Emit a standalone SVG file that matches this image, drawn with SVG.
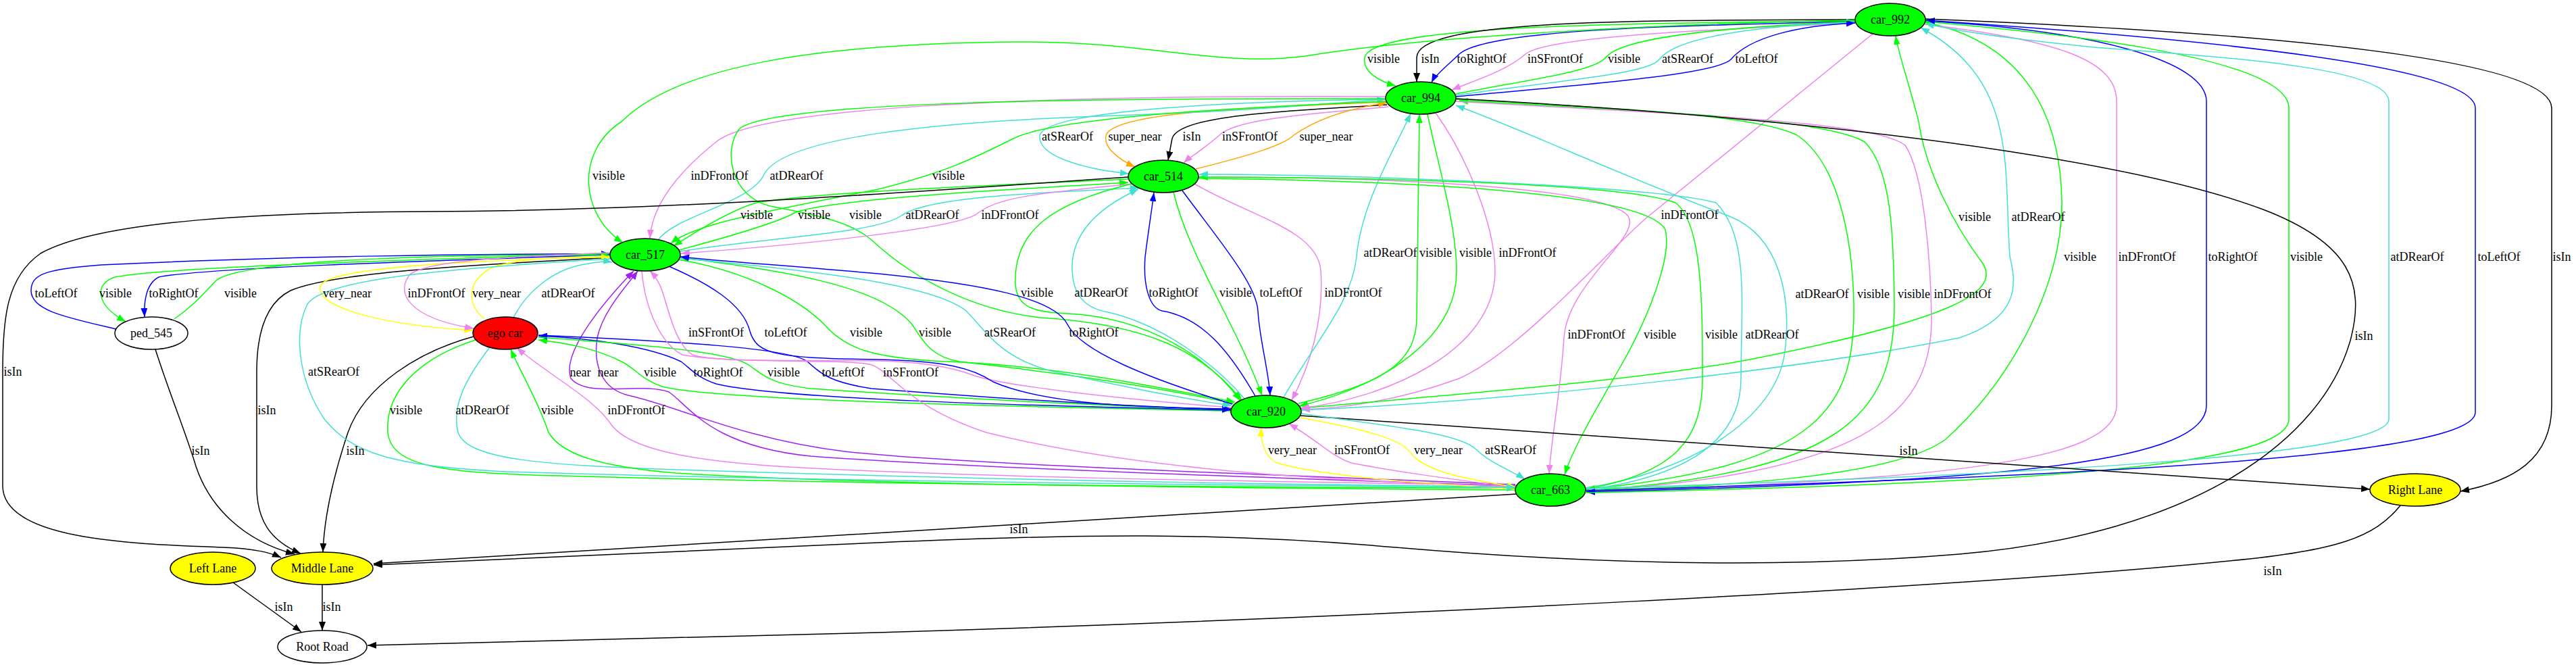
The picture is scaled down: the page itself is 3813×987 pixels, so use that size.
<svg xmlns="http://www.w3.org/2000/svg" width="3813" height="987" viewBox="0 0 3813 987">
<style>
.e{fill:none;stroke-width:1.5}
.g{stroke:#00ff00;marker-end:url(#mg)}
.t{stroke:#40e0d0;marker-end:url(#mt)}
.v{stroke:#ee82ee;marker-end:url(#mv)}
.b{stroke:#0000ff;marker-end:url(#mb)}
.o{stroke:#ffa500;marker-end:url(#mo)}
.y{stroke:#ffff00;marker-end:url(#my)}
.p{stroke:#a020f0;marker-end:url(#mp)}
.k{stroke:#000000;marker-end:url(#mk)}
text{font-family:"Liberation Serif","Times New Roman",serif;font-size:18px;text-anchor:middle;fill:#000}
.n ellipse{stroke:#000;stroke-width:1.5}
</style>
<defs>
<marker id="mg" viewBox="0 0 13 10" refX="13" refY="5" markerWidth="13" markerHeight="10" markerUnits="userSpaceOnUse" orient="auto"><path d="M0,0L13,5L0,10z" fill="#00ff00"/></marker>
<marker id="mt" viewBox="0 0 13 10" refX="13" refY="5" markerWidth="13" markerHeight="10" markerUnits="userSpaceOnUse" orient="auto"><path d="M0,0L13,5L0,10z" fill="#40e0d0"/></marker>
<marker id="mv" viewBox="0 0 13 10" refX="13" refY="5" markerWidth="13" markerHeight="10" markerUnits="userSpaceOnUse" orient="auto"><path d="M0,0L13,5L0,10z" fill="#ee82ee"/></marker>
<marker id="mb" viewBox="0 0 13 10" refX="13" refY="5" markerWidth="13" markerHeight="10" markerUnits="userSpaceOnUse" orient="auto"><path d="M0,0L13,5L0,10z" fill="#0000ff"/></marker>
<marker id="mo" viewBox="0 0 13 10" refX="13" refY="5" markerWidth="13" markerHeight="10" markerUnits="userSpaceOnUse" orient="auto"><path d="M0,0L13,5L0,10z" fill="#ffa500"/></marker>
<marker id="my" viewBox="0 0 13 10" refX="13" refY="5" markerWidth="13" markerHeight="10" markerUnits="userSpaceOnUse" orient="auto"><path d="M0,0L13,5L0,10z" fill="#ffff00"/></marker>
<marker id="mp" viewBox="0 0 13 10" refX="13" refY="5" markerWidth="13" markerHeight="10" markerUnits="userSpaceOnUse" orient="auto"><path d="M0,0L13,5L0,10z" fill="#a020f0"/></marker>
<marker id="mk" viewBox="0 0 13 10" refX="13" refY="5" markerWidth="13" markerHeight="10" markerUnits="userSpaceOnUse" orient="auto"><path d="M0,0L13,5L0,10z" fill="#000000"/></marker>
</defs>
<rect width="3813" height="987" fill="#ffffff"/>
<g id="connectors">
<path class="e g" d="M2746,31 C2350,34 2030,40 2020,85 C2016,105 2040,120 2066,127"/>
<path class="e k" d="M2746,29 C2400,30 2098,30 2097,85 L2097,121"/>
<path class="e b" d="M2746,32 C2450,38 2200,45 2160,80 C2145,95 2125,110 2119,122"/>
<path class="e v" d="M2747,34 C2500,45 2290,55 2258,80 C2230,105 2180,120 2149,133"/>
<path class="e g" d="M2155,139 C2280,115 2360,105 2377,85 C2400,55 2550,40 2746,32"/>
<path class="e t" d="M2155,141 C2300,120 2440,110 2456,88 C2480,55 2600,38 2746,33"/>
<path class="e b" d="M2155,143 C2350,125 2540,110 2562,88 C2590,55 2660,38 2746,34"/>
<path class="e t" d="M2051,147 C1800,150 1550,165 1539,200 C1535,235 1620,252 1671,257"/>
<path class="e o" d="M2052,151 C1850,160 1660,165 1638,198 C1630,218 1660,238 1680,247"/>
<path class="e k" d="M2053,155 C1900,165 1745,170 1735,205 L1729,237"/>
<path class="e v" d="M2055,158 C1950,168 1830,175 1805,200 C1785,218 1762,232 1752,241"/>
<path class="e o" d="M1770,250 C1850,230 1900,215 1915,200 C1950,175 2000,160 2053,152"/>
<path class="e g" d="M2746,30 C2450,35 2100,55 1932,83 C1800,100 1700,60 1500,62 C1200,65 1000,100 920,180 C850,225 860,320 922,359"/>
<path class="e v" d="M2051,143 C1500,140 1120,160 1060,210 C1010,250 965,300 962,353"/>
<path class="e t" d="M975,354 C1000,320 1110,300 1130,260 C1150,215 1300,185 1600,173 C1850,165 1980,152 2051,147"/>
<path class="e g" d="M2052,150 C1800,160 1560,175 1500,205 C1440,235 1400,255 1300,280 C1150,310 1030,330 993,360"/>
<path class="e g" d="M1670,265 C1450,275 1200,285 1120,300 C1090,308 1050,330 997,364"/>
<path class="e g" d="M1005,370 C1080,350 1150,330 1176,315 C1220,295 1500,280 1670,270"/>
<path class="e g" d="M2051,146 C1600,145 1150,150 1095,190 C1070,220 1080,290 1140,305 C1220,320 1260,330 1290,355 C1360,420 1450,460 1540,470 C1700,480 1780,520 1838,592"/>
<path class="e t" d="M1006,372 C1150,350 1300,345 1336,318 C1380,290 1550,285 1686,278"/>
<path class="e v" d="M1676,272 C1550,285 1480,290 1448,315 C1420,340 1150,365 1008,375"/>
<path class="e v" d="M2772,50 L2440,320 C2380,370 2250,520 2160,560 C2050,600 1960,605 1926,606"/>
<path class="e g" d="M1926,604 C2200,580 2450,560 2600,530 C2900,470 2960,430 2935,390 C2890,330 2850,250 2840,180 C2825,120 2810,80 2806,53"/>
<path class="e t" d="M1926,607 C2300,590 2700,540 2900,500 C2990,470 2985,420 2975,380 C2965,250 2990,120 2843,41"/>
<path class="e g" d="M1675,272 C1560,300 1500,340 1503,420 C1505,455 1530,462 1580,464 C1700,470 1790,530 1836,593"/>
<path class="e t" d="M1842,590 C1800,540 1720,480 1640,462 C1600,455 1588,430 1587,400 C1585,350 1620,310 1685,280"/>
<path class="e b" d="M1858,586 C1820,520 1780,470 1720,460 C1700,455 1692,420 1695,380 C1700,340 1705,310 1708,285"/>
<path class="e g" d="M1737,284 C1760,380 1830,480 1868,585"/>
<path class="e b" d="M1750,282 C1800,350 1860,420 1862,460 C1864,500 1878,550 1880,585"/>
<path class="e v" d="M1768,272 C1850,320 1950,340 1955,400 C1960,470 1940,540 1912,592"/>
<path class="e t" d="M1900,588 C1950,500 2000,450 2008,380 C2015,300 2065,220 2088,168"/>
<path class="e g" d="M1922,597 C2040,570 2097,540 2097,470 L2101,169"/>
<path class="e g" d="M2113,169 C2130,250 2155,330 2156,400 C2157,500 2050,570 1923,601"/>
<path class="e v" d="M2125,167 C2170,230 2212,330 2213,400 C2214,520 2050,590 1925,604"/>
<path class="e t" d="M2346,722 C2500,700 2630,620 2642,520 C2652,440 2635,350 2560,320 C2400,260 2250,190 2155,156"/>
<path class="e g" d="M2155,147 C2400,160 2600,170 2660,200 C2720,240 2742,350 2744,450 C2746,600 2700,690 2348,724"/>
<path class="e g" d="M2348,726 C2720,700 2805,620 2804,450 C2803,350 2800,250 2760,210 C2700,175 2450,165 2160,149"/>
<path class="e v" d="M2155,150 C2500,170 2780,180 2820,215 C2850,260 2858,400 2859,470 C2860,620 2750,700 2348,727"/>
<path class="e v" d="M1774,262 C2100,262 2380,280 2410,320 C2430,350 2320,420 2315,500 C2310,580 2296,650 2293,701"/>
<path class="e g" d="M1774,264 C2150,268 2440,290 2465,340 C2475,380 2440,470 2400,540 C2360,610 2330,660 2316,702"/>
<path class="e g" d="M2347,724 C2480,700 2520,650 2520,560 C2520,450 2520,330 2480,300 C2400,270 2000,262 1775,262"/>
<path class="e t" d="M2347,725 C2500,705 2577,650 2577,560 C2577,450 2590,350 2540,300 C2450,275 2000,258 1775,258"/>
<path class="e g" d="M2348,725 C2500,722 2800,710 2880,650 C2980,560 3052,420 3052,300 C3050,150 2980,60 2850,33"/>
<path class="e v" d="M2849,36 C3050,60 3133,90 3133,150 L3133,600 C3133,680 2900,710 2348,727"/>
<path class="e b" d="M2850,31 C3100,45 3266,90 3266,150 L3266,600 C3266,680 3000,712 2348,728"/>
<path class="e g" d="M2348,729 C3000,716 3388,690 3388,620 L3388,160 C3388,80 3000,45 2850,32"/>
<path class="e t" d="M2348,723 C3100,700 3536,670 3536,620 L3536,150 C3536,100 3300,85 3100,70 C2950,55 2880,42 2850,35"/>
<path class="e b" d="M2348,726 C3200,702 3664,670 3664,610 L3664,160 C3664,100 3300,60 2851,30"/>
<path class="e k" d="M2850,28 C3400,50 3777,90 3777,160 L3777,600 C3777,680 3720,712 3642,727"/>
<path class="e k" d="M2155,146 C2700,175 3150,235 3350,310 C3480,360 3500,420 3480,500 C3440,650 3250,790 2900,820 C2600,845 2300,830 2066,810 C1800,787 1600,790 1300,803 C1000,815 700,830 553,836"/>
<path class="e k" d="M2245,731 C1800,760 1000,805 553,834"/>
<path class="e k" d="M1924,615 L3508,724"/>
<path class="e k" d="M3553,748 C3515,795 3460,815 3300,830 C2900,870 2000,915 1300,936 C1000,945 700,952 544,955"/>
<path class="e k" d="M1670,262 C1400,280 1000,312 640,313 C400,314 150,325 60,375 C10,410 4,470 4,550 L4,720 C6,800 200,805 330,810 C380,812 400,818 416,825"/>
<path class="e k" d="M904,381 C750,390 500,400 430,430 C390,450 380,500 380,550 L380,720 C380,770 400,800 445,819"/>
<path class="e k" d="M701,498 C620,520 540,570 515,640 C495,700 480,760 478,817"/>
<path class="e k" d="M230,517 C250,580 275,640 290,690 C310,750 360,800 436,820"/>
<path class="e k" d="M345,862 L446,935"/>
<path class="e k" d="M477,865 L477,933"/>
<path class="e b" d="M172,487 C100,470 46,460 46,430 C46,405 70,398 150,392 C400,380 700,375 903,376"/>
<path class="e g" d="M903,375 C600,385 250,395 170,410 C140,420 140,450 186,476"/>
<path class="e b" d="M903,377 C600,387 300,397 235,410 C215,420 213,450 214,469"/>
<path class="e g" d="M258,472 C290,450 305,430 320,415 C360,382 700,376 903,378"/>
<path class="e y" d="M903,380 C700,385 500,395 476,420 C458,450 550,480 700,489"/>
<path class="e v" d="M904,374 C750,380 640,385 608,405 C585,430 600,470 701,486"/>
<path class="e y" d="M717,472 C690,450 690,415 730,395 C780,380 850,380 903,381"/>
<path class="e t" d="M760,470 C780,430 820,400 860,392 C880,388 895,386 906,388"/>
<path class="e g" d="M704,503 C620,530 570,580 574,640 C580,690 650,700 830,704 C1300,718 2000,722 2243,722"/>
<path class="e t" d="M724,515 C690,560 668,600 678,640 C692,680 800,688 1000,695 C1600,714 2000,718 2243,720"/>
<path class="e g" d="M2243,725 C1800,722 1300,718 1000,700 C880,690 830,670 812,640 C795,590 770,550 756,517"/>
<path class="e v" d="M2244,718 C1800,712 1400,705 1150,690 C1000,680 930,660 906,630 C880,590 820,560 765,515"/>
<path class="e p" d="M2243,719 C1800,705 1400,690 1200,675 C1050,660 1020,600 990,580 C950,565 870,590 845,560 C830,520 900,440 938,401"/>
<path class="e p" d="M2243,717 C1800,700 1400,685 1250,668 C1100,650 1000,600 930,585 C890,575 878,540 884,500 C892,460 930,420 944,401"/>
<path class="e g" d="M1822,608 C1400,600 1050,590 980,572 C950,562 940,545 920,535 C880,515 840,508 797,503"/>
<path class="e b" d="M1822,607 C1500,600 1150,590 1060,568 C1030,558 1022,545 1008,535 C960,512 870,500 797,497"/>
<path class="e g" d="M797,499 C950,510 1080,520 1108,540 C1130,555 1140,568 1200,575 C1500,595 1700,603 1822,606"/>
<path class="e b" d="M797,496 C1000,505 1170,515 1195,535 C1215,552 1225,565 1290,575 C1550,595 1700,603 1822,606"/>
<path class="e v" d="M950,401 C955,460 980,510 1010,525 C1100,540 1250,530 1290,540 C1320,550 1340,600 1460,640 C1700,700 2000,712 2243,720"/>
<path class="e v" d="M1822,603 C1650,590 1480,570 1440,555 C1400,540 1350,535 1300,534 C1150,533 1050,535 1025,525 C1000,510 990,460 980,430 C975,415 968,407 962,401"/>
<path class="e b" d="M990,394 C1050,420 1100,450 1110,490 C1120,525 1150,530 1300,532 C1400,534 1440,545 1470,565 C1550,600 1700,603 1822,605"/>
<path class="e g" d="M1003,384 C1100,400 1180,440 1220,480 C1250,515 1290,530 1400,535 C1550,540 1700,570 1828,595"/>
<path class="e g" d="M1826,597 C1650,560 1500,545 1420,535 C1380,528 1370,510 1350,480 C1300,420 1150,400 1006,381"/>
<path class="e t" d="M1006,382 C1200,400 1380,420 1430,460 C1460,490 1480,530 1560,550 C1680,575 1750,590 1823,600"/>
<path class="e b" d="M1824,598 C1700,560 1600,520 1580,480 C1560,440 1450,420 1300,405 C1150,392 1050,385 1007,380"/>
<path class="e y" d="M2243,724 C2100,715 1960,705 1890,685 C1870,675 1866,650 1867,633"/>
<path class="e v" d="M2243,721 C2150,710 2050,695 2000,685 C1970,675 1955,655 1908,627"/>
<path class="e y" d="M1925,618 C2020,635 2075,650 2088,670 C2110,700 2180,710 2244,721"/>
<path class="e t" d="M1926,612 C2050,630 2160,640 2185,665 C2205,685 2240,698 2257,709"/>
<path class="e t" d="M904,383 C700,395 480,410 455,450 C435,490 440,560 480,620 C520,670 580,690 750,698 C1200,712 1800,718 2243,721"/>
</g>
<g id="edge-labels">
<text x="2048" y="93">visible</text><text x="2117" y="93">isIn</text><text x="2193" y="93">toRightOf</text><text x="2302" y="93">inSFrontOf</text><text x="2404" y="93">visible</text><text x="2498" y="93">atSRearOf</text><text x="2600" y="93">toLeftOf</text>
<text x="1580" y="208">atSRearOf</text><text x="1680" y="208">super_near</text><text x="1764" y="208">isIn</text><text x="1850" y="208">inSFrontOf</text><text x="1963" y="208">super_near</text>
<text x="901" y="266">visible</text><text x="1065" y="266">inDFrontOf</text><text x="1179" y="266">atDRearOf</text><text x="1404" y="266">visible</text>
<text x="1120" y="324">visible</text><text x="1205" y="324">visible</text><text x="1281" y="324">visible</text><text x="1380" y="324">atDRearOf</text><text x="1495" y="324">inDFrontOf</text>
<text x="2501" y="324">inDFrontOf</text><text x="2923" y="327">visible</text><text x="3017" y="327">atDRearOf</text>
<text x="2058" y="380">atDRearOf</text><text x="2125" y="380">visible</text><text x="2184" y="380">visible</text><text x="2261" y="380">inDFrontOf</text>
<text x="3079" y="386">visible</text><text x="3178" y="386">inDFrontOf</text><text x="3305" y="386">toRightOf</text><text x="3414" y="386">visible</text><text x="3578" y="386">atDRearOf</text><text x="3699" y="386">toLeftOf</text><text x="3792" y="386">isIn</text>
<text x="1535" y="439">visible</text><text x="1630" y="439">atDRearOf</text><text x="1737" y="439">toRightOf</text><text x="1829" y="439">visible</text><text x="1896" y="439">toLeftOf</text><text x="2003" y="439">inDFrontOf</text>
<text x="83" y="440">toLeftOf</text><text x="171" y="440">visible</text><text x="257" y="440">toRightOf</text><text x="356" y="440">visible</text><text x="514" y="440">very_near</text><text x="646" y="440">inDFrontOf</text><text x="735" y="440">very_near</text><text x="841" y="440">atDRearOf</text>
<text x="2697" y="441">atDRearOf</text><text x="2773" y="441">visible</text><text x="2833" y="441">visible</text><text x="2905" y="441">inDFrontOf</text>
<text x="1060" y="498">inSFrontOf</text><text x="1163" y="498">toLeftOf</text><text x="1282" y="498">visible</text><text x="1384" y="498">visible</text><text x="1495" y="498">atSRearOf</text><text x="1619" y="498">toRightOf</text>
<text x="2363" y="501">inDFrontOf</text><text x="2457" y="501">visible</text><text x="2548" y="501">visible</text><text x="2623" y="501">atDRearOf</text><text x="3499" y="503">isIn</text>
<text x="19" y="556">isIn</text><text x="494" y="556">atSRearOf</text><text x="859" y="557">near</text><text x="900" y="557">near</text><text x="977" y="557">visible</text><text x="1063" y="557">toRightOf</text><text x="1160" y="557">visible</text><text x="1248" y="557">toLeftOf</text><text x="1348" y="557">inSFrontOf</text>
<text x="395" y="613">isIn</text><text x="601" y="613">visible</text><text x="714" y="613">atDRearOf</text><text x="825" y="613">visible</text><text x="942" y="613">inDFrontOf</text>
<text x="297" y="673">isIn</text><text x="526" y="673">isIn</text><text x="1913" y="672">very_near</text><text x="2016" y="672">inSFrontOf</text><text x="2129" y="672">very_near</text><text x="2236" y="672">atSRearOf</text><text x="2825" y="673">isIn</text>
<text x="1508" y="789">isIn</text><text x="3364" y="851">isIn</text><text x="420" y="904">isIn</text><text x="491" y="904">isIn</text>
</g>
<g id="car_992" class="n"><ellipse cx="2798" cy="29" rx="52" ry="24" fill="#00ff00"/><text x="2798" y="35">car_992</text></g>
<g id="car_994" class="n"><ellipse cx="2103" cy="145" rx="52" ry="24" fill="#00ff00"/><text x="2103" y="151">car_994</text></g>
<g id="car_514" class="n"><ellipse cx="1722" cy="261" rx="52" ry="24" fill="#00ff00"/><text x="1722" y="267">car_514</text></g>
<g id="car_517" class="n"><ellipse cx="955" cy="377" rx="52" ry="24" fill="#00ff00"/><text x="955" y="383">car_517</text></g>
<g id="ego_car" class="n"><ellipse cx="748" cy="493" rx="48" ry="24" fill="#ff0000"/><text x="748" y="499">ego car</text></g>
<g id="ped_545" class="n"><ellipse cx="224" cy="493" rx="54" ry="24" fill="#ffffff"/><text x="224" y="499">ped_545</text></g>
<g id="car_920" class="n"><ellipse cx="1874" cy="609" rx="52" ry="24" fill="#00ff00"/><text x="1874" y="615">car_920</text></g>
<g id="car_663" class="n"><ellipse cx="2295" cy="725" rx="52" ry="24" fill="#00ff00"/><text x="2295" y="731">car_663</text></g>
<g id="right_lane" class="n"><ellipse cx="3575" cy="725" rx="67" ry="24" fill="#ffff00"/><text x="3575" y="731">Right Lane</text></g>
<g id="left_lane" class="n"><ellipse cx="315" cy="841" rx="63" ry="24" fill="#ffff00"/><text x="315" y="847">Left Lane</text></g>
<g id="middle_lane" class="n"><ellipse cx="477" cy="841" rx="75" ry="24" fill="#ffff00"/><text x="477" y="847">Middle Lane</text></g>
<g id="root_road" class="n"><ellipse cx="477" cy="957" rx="66" ry="24" fill="#ffffff"/><text x="477" y="963">Root Road</text></g>
</svg>
